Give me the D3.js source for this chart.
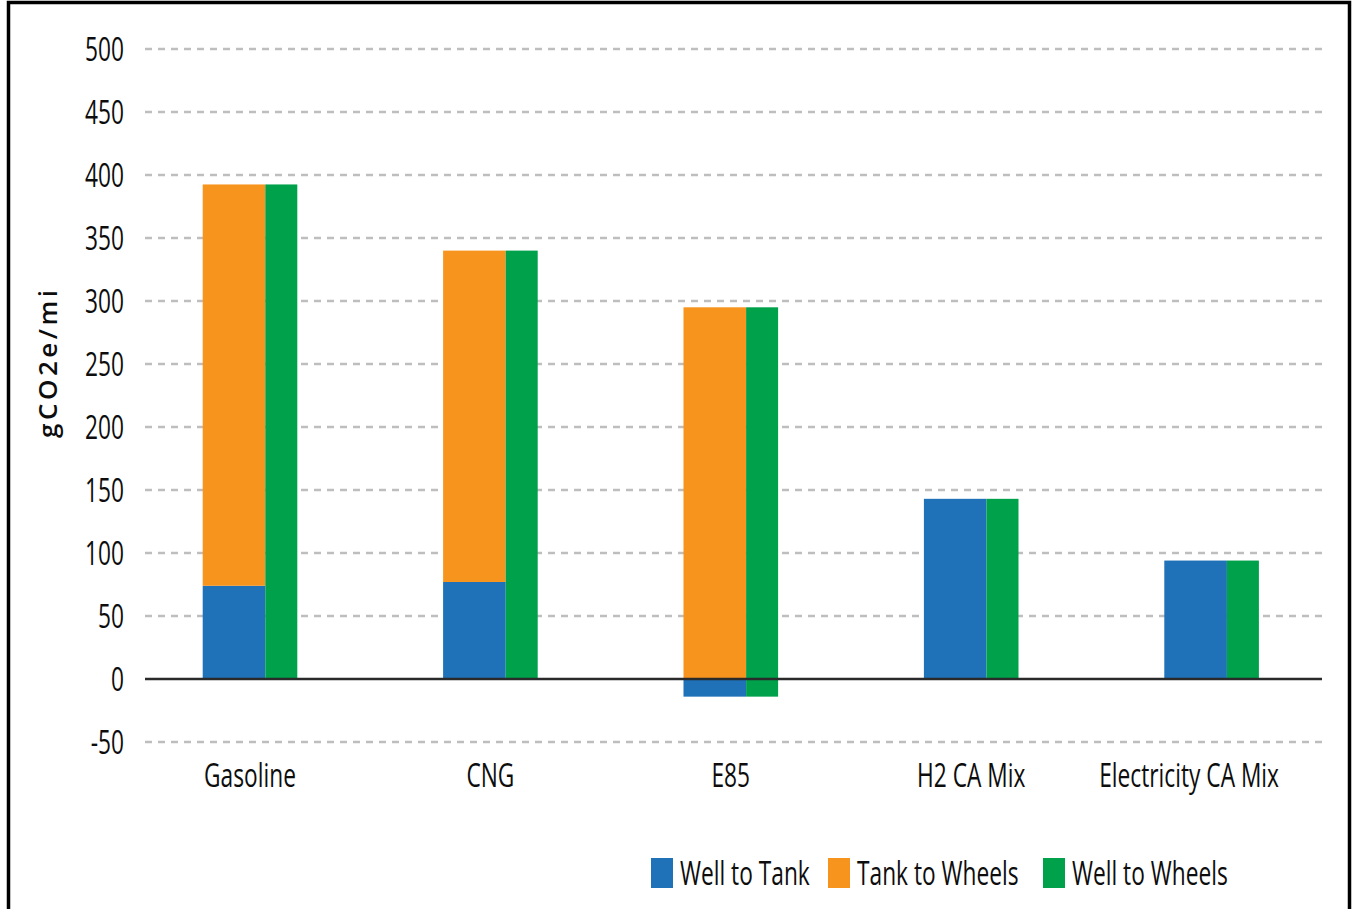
<!DOCTYPE html>
<html><head><meta charset="utf-8">
<script src="https://cdn.jsdelivr.net/npm/d3@7"></script>
<style>html,body{margin:0;padding:0;background:#fff;overflow:hidden}</style>
</head><body>
<svg id="chart" width="1353" height="909"></svg>
<script>
// ---- data ----
const categories = ["Gasoline", "CNG", "E85", "H2 CA Mix", "Electricity CA Mix"];
const wellToTank = [74, 77, -14, 143, 94];
const tankToWheels = [318.5, 263, 295, 0, 0];
const seriesNames = ["Well to Tank", "Tank to Wheels", "Well to Wheels"];
const yTicks = [-50, 0, 50, 100, 150, 200, 250, 300, 350, 400, 450, 500];
const yLabel = "gCO2e/mi";

// ---- styles ----
const colors = ["#1F71B8", "#F7941E", "#00A14B"];
const FONT = "'Open Sans', 'Noto Sans', sans-serif";
const SQX = 0.71;
const TXT = "#0d0d0d";

const svg = d3.select("#chart");
const plotL = 145, plotR = 1322;
const y = d3.scaleLinear().domain([-50, 500]).range([742, 49]);
const x = d3.scalePoint().domain(categories).range([250, 1211.6]);
const wideW = 62.6, narrowW = 32, leftOff = -47.3;

function ctext(g, tx, ty, str, anchor, size) {
  const gg = g.append("g").attr("transform", `translate(${tx},${ty})`);
  const t = gg.append("text").attr("transform", `scale(${SQX},1)`)
    .attr("text-anchor", anchor).attr("font-family", FONT).attr("font-weight", 500)
    .attr("font-size", size).attr("fill", TXT).text(str);
  return t;
}

// border
svg.append("rect").attr("x", 8.5).attr("y", 2.5).attr("width", 1341).attr("height", 960)
  .attr("fill", "none").attr("stroke", "#000").attr("stroke-width", 3.5);

// grid
const grid = svg.append("g");
grid.selectAll("line").data(yTicks.filter(d => d !== 0)).join("line")
  .attr("x1", plotL).attr("x2", plotR)
  .attr("y1", d => y(d)).attr("y2", d => y(d))
  .attr("stroke", "#BEBEBE").attr("stroke-width", 2.6).attr("stroke-dasharray", "7,6");

// y tick labels via axis
const yAxis = svg.append("g").attr("transform", "translate(124,0)")
  .call(d3.axisLeft(y).tickValues(yTicks).tickSize(0).tickPadding(0).tickFormat(d => String(d)));
yAxis.select(".domain").remove();
yAxis.selectAll(".tick text")
  .attr("font-family", FONT).attr("font-size", 32).attr("font-weight", 500).attr("fill", TXT)
  .attr("text-anchor", "end").attr("x", 0).attr("dy", "0.355em")
  .attr("transform", `scale(${SQX},1)`);

// bars
const rows = categories.map((c, i) => ({
  c, wtt: wellToTank[i], ttw: tankToWheels[i]
}));
const bars = svg.append("g");
// well to tank
bars.selectAll("rect.wtt").data(rows).join("rect").attr("class", "wtt")
  .attr("x", d => x(d.c) + leftOff).attr("width", wideW)
  .attr("y", d => y(Math.max(0, d.wtt))).attr("height", d => Math.abs(y(d.wtt) - y(0)))
  .attr("fill", colors[0]);
// tank to wheels (stacked on positive side)
bars.selectAll("rect.ttw").data(rows.filter(d => d.ttw > 0)).join("rect").attr("class", "ttw")
  .attr("x", d => x(d.c) + leftOff).attr("width", wideW)
  .attr("y", d => y(Math.max(0, d.wtt) + d.ttw))
  .attr("height", d => y(Math.max(0, d.wtt)) - y(Math.max(0, d.wtt) + d.ttw))
  .attr("fill", colors[1]);

// zero line
svg.append("line").attr("x1", plotL).attr("x2", plotR).attr("y1", y(0)).attr("y2", y(0))
  .attr("stroke", "#2a2a2a").attr("stroke-width", 2.4);

// well to wheels
bars.append("g").selectAll("rect").data(rows).join("rect")
  .attr("x", d => x(d.c) + leftOff + wideW).attr("width", narrowW)
  .attr("y", d => y(Math.max(0, d.wtt) + d.ttw))
  .attr("height", d => y(Math.min(0, d.wtt)) - y(Math.max(0, d.wtt) + d.ttw))
  .attr("fill", colors[2]);

// category labels
const labLimit = 1279;
const cl = svg.append("g");
categories.forEach(c => {
  const t = ctext(cl, x(c), 787, c, "middle", 32);
  const w = t.node().getComputedTextLength() * SQX;
  if (x(c) + w / 2 > labLimit) {
    t.node().parentNode.setAttribute("transform", `translate(${labLimit - w / 2},787)`);
  }
});

// y label
svg.append("text")
  .attr("transform", "translate(57,364) rotate(-90)")
  .attr("text-anchor", "middle").attr("font-family", FONT).attr("font-weight", 600)
  .attr("font-size", 26).attr("fill", TXT)
  .attr("textLength", 148).attr("lengthAdjust", "spacing")
  .text(yLabel);

// legend
const legX = [651, 828, 1043];
const lg = svg.append("g");
seriesNames.forEach((s, i) => {
  lg.append("rect").attr("x", legX[i]).attr("y", 858).attr("width", 22).attr("height", 30)
    .attr("fill", colors[i]);
  ctext(lg, legX[i] + 29, 885, s, "start", 32);
});
</script>
</body></html>
